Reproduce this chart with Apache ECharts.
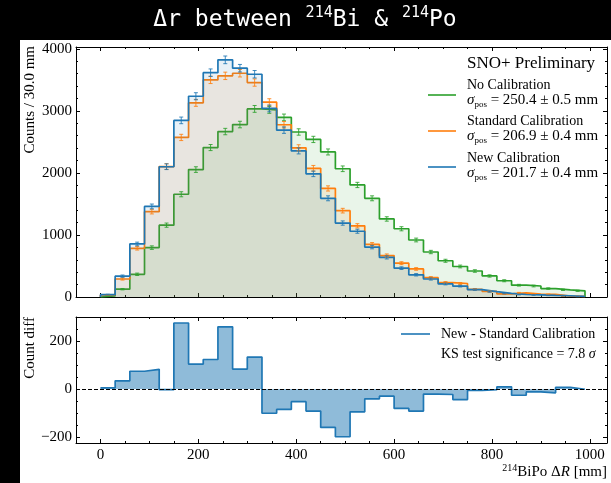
<!DOCTYPE html>
<html><head><meta charset="utf-8">
<script src="https://cdn.jsdelivr.net/npm/echarts@6/dist/echarts.min.js"></script>
<style>
html,body{margin:0;padding:0;background:#000;width:611px;height:483px;overflow:hidden}
#bg{position:absolute;left:20px;top:40px;width:591px;height:443px;background:#fff}
#c{position:absolute;left:0;top:0;width:611px;height:483px}
</style>
</head><body><div id="bg"></div><div id="c"></div>
<script>
// bin edges (mm)
const binEdges = [0,30,60,90,120,150,180,210,240,270,300,330,360,390,420,450,480,510,540,570,600,630,660,690,720,750,780,810,840,870,900,930,960,990];
// counts per bin
const noCalibration = [18,126,366,796,1158,1656,2054,2409,2667,2780,3032,3016,2895,2660,2540,2338,2067,1806,1591,1258,1100,919,725,584,492,419,339,262,190,177,136,116,100];
const standardCalibration = [33,290,785,1376,2103,2572,3130,3500,3565,3607,3457,3140,2777,2405,2075,1750,1392,1148,848,668,545,452,311,233,218,124,90,50,66,45,42,13,10];
const newCalibration = [38,336,855,1460,2100,2847,3236,3616,3823,3688,3591,3040,2690,2355,1985,1591,1192,1060,805,638,465,358,290,210,175,118,87,59,40,33,26,20,9];
// New - Standard difference per bin
const diffNewStd = [5,34,74,82,-3,275,104,123,259,83,133,-101,-85,-53,-92,-160,-199,-95,-41,-30,-81,-92,-21,-23,-44,-6,-3,9,-26,-12,-16,7,-1];
// tick labels
const xTickLabels = [0,200,400,600,800,1000];
const yTopTickLabels = [0,1000,2000,3000,4000];
const yBotTickLabels = [-200,0,200];

const GREEN = '#2ca02c', ORANGE = '#ff7f0e', BLUE = '#1f77b4';
const SERIF = '"Liberation Serif","DejaVu Serif",serif';

function stepData(vals){
  const pts = [[binEdges[0], 0]];
  for (let i = 0; i < vals.length; i++) pts.push([binEdges[i], vals[i]]);
  pts.push([binEdges[vals.length], vals[vals.length-1]]);
  pts.push([binEdges[vals.length], 0]);
  return pts;
}
function errData(vals){
  return vals.map((v,i)=>[(binEdges[i]+binEdges[i+1])/2, v, Math.sqrt(v)]);
}
function errRender(color){
  return function(params, api){
    const x = api.value(0), v = api.value(1), e = api.value(2);
    const t = api.coord([x, v+e]), b = api.coord([x, v-e]);
    const cx = t[0];
    const st = {stroke:color, lineWidth:1, opacity:0.85};
    return {type:'group', children:[
      {type:'line', shape:{x1:cx,y1:t[1],x2:cx,y2:b[1]}, style:st},
      {type:'line', shape:{x1:cx-2,y1:t[1],x2:cx+2,y2:t[1]}, style:st},
      {type:'line', shape:{x1:cx-2,y1:b[1],x2:cx+2,y2:b[1]}, style:st}
    ]};
  };
}
function fmtX(v){ return xTickLabels.indexOf(v) >= 0 ? String(v) : ''; }
function fmtYTop(v){ return yTopTickLabels.indexOf(v) >= 0 ? String(v) : ''; }
function fmtYBot(v){ return yBotTickLabels.indexOf(v) >= 0 ? (v < 0 ? '\u2212' + (-v) : String(v)) : ''; }

const lineBlack = {color:'#000', width:1};
function xAxis(grid, pos, labels){
  return {type:'value', gridIndex:grid, position:pos, min:-50, max:1035, minInterval:200, maxInterval:200,
    axisLine:{show:true, onZero:false, lineStyle:lineBlack},
    axisTick:{show:true, inside:true, length:4, lineStyle:lineBlack},
    minorTick:{show:true, splitNumber:4, length:2, lineStyle:lineBlack},
    splitLine:{show:false},
    axisLabel:{show:labels, formatter:fmtX, fontFamily:SERIF, fontSize:15, color:'#000', margin:5, showMinLabel:true, showMaxLabel:true}
  };
}
function yAxis(grid, pos, labels, min, max, iv, minorSplit, fmt){
  return {type:'value', gridIndex:grid, position:pos, min:min, max:max, minInterval:iv, maxInterval:iv,
    axisLine:{show:true, onZero:false, lineStyle:lineBlack},
    axisTick:{show:true, inside:true, length:4, lineStyle:lineBlack},
    minorTick:{show:true, splitNumber:minorSplit, length:2, lineStyle:lineBlack},
    splitLine:{show:false},
    axisLabel:{show:labels, formatter:fmt, fontFamily:SERIF, fontSize:15, color:'#000', margin:4}
  };
}
function histSeries(vals, color, z){
  return {type:'line', xAxisIndex:0, yAxisIndex:0, step:'end', data:stepData(vals), symbol:'none',
    lineStyle:{color:color, width:1.7}, areaStyle:{color:color, opacity:0.1}, z:z, silent:true};
}
function errSeries(vals, color, z){
  return {type:'custom', xAxisIndex:0, yAxisIndex:0, data:errData(vals), renderItem:errRender(color), z:z, silent:true,
    encode:{x:0, y:1}};
}
function sigmaStyle(val, err){
  return {text:'{i|\u03c3}{s|pos}{n| = ' + val + ' \u00b1 ' + err + ' mm}', align:'left', verticalAlign:'middle',
    rich:{i:{fontFamily:SERIF, fontSize:15, fontStyle:'italic', lineHeight:18, fill:'#000'},
          s:{fontFamily:SERIF, fontSize:9, lineHeight:18, verticalAlign:'bottom', fill:'#000'},
          n:{fontFamily:SERIF, fontSize:15, lineHeight:18, fill:'#000'}}};
}

const chart = echarts.init(document.getElementById('c'), null, {renderer:'canvas'});
const legendX = 467;
const option = {
  animation:false,
  backgroundColor:'transparent',
  grid:[
    {left:76, top:47, width:531, height:250},
    {left:76, top:317, width:531, height:126}
  ],
  xAxis:[ xAxis(0,'bottom',false), xAxis(0,'top',false), xAxis(1,'bottom',true), xAxis(1,'top',false) ],
  yAxis:[
    yAxis(0,'left',true,0,4030,1000,5,fmtYTop), yAxis(0,'right',false,0,4030,1000,5,fmtYTop),
    yAxis(1,'left',true,-225,300,200,4,fmtYBot), yAxis(1,'right',false,-225,300,200,4,fmtYBot)
  ],
  series:[
    histSeries(noCalibration, GREEN, 2),
    histSeries(standardCalibration, ORANGE, 3),
    histSeries(newCalibration, BLUE, 4),
    errSeries(noCalibration, GREEN, 5),
    errSeries(standardCalibration, ORANGE, 5),
    errSeries(newCalibration, BLUE, 5),
    {type:'line', xAxisIndex:2, yAxisIndex:2, step:'end', data:stepData(diffNewStd).slice(1, -1), symbol:'none',
      lineStyle:{color:BLUE, width:1.7}, areaStyle:{color:BLUE, opacity:0.5, origin:0}, z:3, silent:true,
      markLine:{silent:true, symbol:'none', label:{show:false}, lineStyle:{color:'#000', width:1, type:[4,2]},
        data:[{yAxis:0}], z:5}}
  ],
  graphic:[
    {type:'text', x:305, y:20, style:{
      text:'{a|\u0394r between }{s|214}{a|Bi & }{s|214}{a|Po}', align:'center', verticalAlign:'middle', fill:'#fff',
      rich:{a:{fontFamily:'"DejaVu Sans Mono",monospace', fontSize:23, lineHeight:29, fill:'#fff'},
            s:{fontFamily:'"DejaVu Sans Mono",monospace', fontSize:15, lineHeight:29, verticalAlign:'top', fill:'#fff'}}}},
    {type:'text', x:30, y:46, rotation:Math.PI/2, style:{text:'Counts / 30.0 mm', align:'right', verticalAlign:'middle',
      fontFamily:SERIF, fontSize:15, fill:'#000'}},
    {type:'text', x:30, y:317, rotation:Math.PI/2, style:{text:'Count diff', align:'right', verticalAlign:'middle',
      fontFamily:SERIF, fontSize:15, fill:'#000'}},
    {type:'text', x:607, y:472, style:{text:'{s|214}{n|BiPo \u0394}{i|R}{n| [mm]}', align:'right', verticalAlign:'middle',
      rich:{n:{fontFamily:SERIF, fontSize:15, lineHeight:18, fill:'#000'},
            i:{fontFamily:SERIF, fontSize:15, fontStyle:'italic', lineHeight:18, fill:'#000'},
            s:{fontFamily:SERIF, fontSize:10, lineHeight:18, verticalAlign:'top', fill:'#000'}}}},
    {type:'text', x:legendX, y:64, style:{text:'SNO+ Preliminary', align:'left', verticalAlign:'middle', fontFamily:SERIF, fontSize:17, fill:'#000'}},
    {type:'line', shape:{x1:428, y1:95, x2:456, y2:95}, style:{stroke:GREEN, lineWidth:1.6}},
    {type:'line', shape:{x1:428, y1:131, x2:456, y2:131}, style:{stroke:ORANGE, lineWidth:1.6}},
    {type:'line', shape:{x1:428, y1:167, x2:456, y2:167}, style:{stroke:BLUE, lineWidth:1.6}},
    {type:'text', x:legendX, y:85, style:{text:'No Calibration', align:'left', verticalAlign:'middle', fontFamily:SERIF, fontSize:14, fill:'#000'}},
    {type:'text', x:legendX, y:121, style:{text:'Standard Calibration', align:'left', verticalAlign:'middle', fontFamily:SERIF, fontSize:14, fill:'#000'}},
    {type:'text', x:legendX, y:158, style:{text:'New Calibration', align:'left', verticalAlign:'middle', fontFamily:SERIF, fontSize:14, fill:'#000'}},
    {type:'text', x:legendX, y:100, style:sigmaStyle('250.4', '0.5')},
    {type:'text', x:legendX, y:136, style:sigmaStyle('206.9', '0.4')},
    {type:'text', x:legendX, y:173, style:sigmaStyle('201.7', '0.4')},
    {type:'line', shape:{x1:401, y1:334, x2:430, y2:334}, style:{stroke:BLUE, lineWidth:1.6}},
    {type:'text', x:441, y:334, style:{text:'New - Standard Calibration', align:'left', verticalAlign:'middle', fontFamily:SERIF, fontSize:14, fill:'#000'}},
    {type:'text', x:441, y:354, style:{text:'{n|KS test significance = 7.8 }{i|\u03c3}', align:'left', verticalAlign:'middle',
      rich:{n:{fontFamily:SERIF, fontSize:14, fill:'#000'}, i:{fontFamily:SERIF, fontSize:14, fontStyle:'italic', fill:'#000'}}}}
  ]
};
chart.setOption(option);
</script>
</body></html>
